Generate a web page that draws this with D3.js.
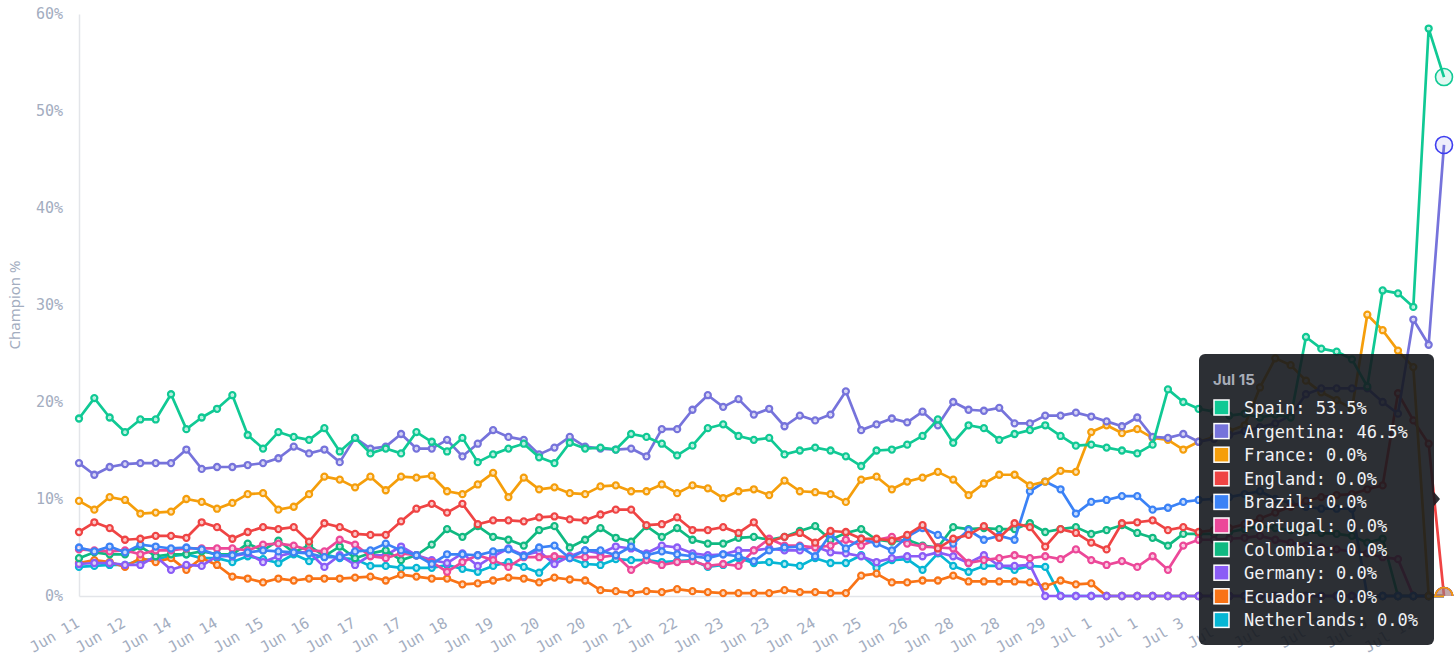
<!DOCTYPE html>
<html>
<head>
<meta charset="utf-8">
<script src="https://cdn.jsdelivr.net/npm/d3@7"></script>
<style>
  body { margin: 0; background: #fff; }
  svg { display: block; }
</style>
</head>
<body>
<svg width="1456" height="662"></svg>
<script>

var countries = ['Spain', 'Argentina', 'France', 'England', 'Brazil', 'Portugal', 'Colombia', 'Germany', 'Ecuador', 'Netherlands'];

var colors = ['#10c994', '#7673db', '#f59e0b', '#ef4444', '#3b82f6', '#ec4899', '#10b981', '#8b5cf6', '#f97316', '#06b6d4'];

// one label every third snapshot
var tickLabels = ['Jun 11', 'Jun 12', 'Jun 14', 'Jun 14', 'Jun 15', 'Jun 16', 'Jun 17', 'Jun 17', 'Jun 18', 'Jun 19',
	'Jun 20', 'Jun 20', 'Jun 21', 'Jun 22', 'Jun 23', 'Jun 23', 'Jun 24', 'Jun 25', 'Jun 26', 'Jun 28',
	'Jun 28', 'Jun 29', 'Jul 1', 'Jul 1', 'Jul 3', 'Jul 4', 'Jul 6', 'Jul 7', 'Jul 9', 'Jul 11'];

var hoverLabel = 'Jul 15';

var yTicks = [0, 10, 20, 30, 40, 50, 60];

var spain = [
	18.3, 20.4, 18.4, 16.9, 18.2, 18.2, 20.8, 17.2, 18.4, 19.3,
	20.7, 16.6, 15.2, 16.9, 16.4, 16.1, 17.3, 14.9, 16.3, 14.7,
	15.2, 14.7, 16.9, 15.9, 14.9, 16.3, 13.8, 14.6, 15.2, 15.7,
	14.3, 13.7, 15.8, 15.2, 15.3, 15.1, 16.7, 16.4, 15.7, 14.5,
	15.5, 17.3, 17.7, 16.5, 16.1, 16.3, 14.6, 15.0, 15.3, 15.0,
	14.4, 13.4, 15.0, 15.1, 15.6, 16.5, 18.2, 15.8, 17.6, 17.3,
	16.1, 16.7, 17.1, 17.6, 16.5, 15.5, 15.6, 15.3, 15.0, 14.7,
	15.6, 21.3, 20.0, 19.3, 19.0, 18.6, 18.8, 18.4, 18.7, 18.4,
	26.7, 25.5, 25.2, 24.4, 21.6, 31.5, 31.2, 29.8, 58.5, 53.5];

var argentina = [
	13.7, 12.5, 13.3, 13.6, 13.7, 13.7, 13.7, 15.1, 13.1, 13.3,
	13.3, 13.5, 13.7, 14.2, 15.4, 14.7, 15.1, 13.8, 16.3, 15.2,
	15.4, 16.7, 15.2, 15.2, 16.1, 14.4, 15.7, 17.1, 16.4, 16.1,
	14.6, 15.3, 16.4, 15.4, 15.2, 15.1, 15.2, 14.4, 17.2, 17.2,
	19.2, 20.7, 19.5, 20.3, 18.7, 19.3, 17.5, 18.6, 18.1, 18.7,
	21.1, 17.1, 17.7, 18.3, 17.9, 19.0, 17.6, 20.0, 19.2, 19.1,
	19.4, 17.8, 17.8, 18.6, 18.6, 18.9, 18.5, 18.0, 17.5, 18.4,
	16.4, 16.3, 16.7, 15.9, 16.2, 16.6, 17.0, 17.4, 17.8, 18.6,
	20.8, 21.4, 21.4, 21.4, 21.4, 20.0, 18.8, 28.5, 25.9, 46.5];

var france = [
	9.8, 8.9, 10.2, 9.9, 8.5, 8.6, 8.7, 10.0, 9.7, 9.0,
	9.6, 10.5, 10.6, 8.9, 9.2, 10.5, 12.3, 12.0, 11.2, 12.3,
	10.9, 12.3, 12.2, 12.4, 10.8, 10.5, 11.5, 12.7, 10.2, 12.2,
	11.0, 11.2, 10.6, 10.5, 11.3, 11.4, 10.8, 10.8, 11.5, 10.6,
	11.4, 11.1, 10.1, 10.8, 11.0, 10.4, 11.9, 10.8, 10.7, 10.5,
	9.7, 12.0, 12.3, 11.0, 11.8, 12.2, 12.8, 12.0, 10.4, 11.6,
	12.5, 12.5, 11.4, 11.8, 12.9, 12.8, 16.9, 17.6, 16.8, 17.2,
	16.3, 16.1, 15.1, 15.9, 16.4, 17.0, 17.6, 21.5, 24.5, 23.8,
	22.2, 21.0, 20.2, 19.3, 29.0, 27.4, 25.3, 23.6, 0, 0];

var england = [
	6.6, 7.6, 7.0, 5.8, 5.9, 6.2, 6.2, 6.0, 7.6, 7.1,
	5.9, 6.6, 7.1, 6.9, 7.1, 5.6, 7.5, 7.1, 6.4, 6.3,
	6.3, 7.7, 9.0, 9.5, 8.6, 9.5, 7.4, 7.8, 7.8, 7.7,
	8.1, 8.2, 7.9, 7.8, 8.4, 8.9, 8.9, 7.3, 7.4, 8.1,
	6.8, 6.8, 7.1, 6.5, 7.6, 5.6, 6.1, 6.5, 5.5, 6.7,
	6.6, 5.9, 5.9, 5.7, 6.3, 7.3, 4.9, 5.9, 6.3, 7.2,
	6.0, 7.5, 7.1, 5.1, 6.9, 6.5, 5.5, 4.8, 7.5, 7.6,
	7.8, 6.8, 7.1, 6.6, 6.8, 7.0, 7.4, 8.0, 8.6, 9.2,
	9.8, 10.2, 10.4, 10.5, 11.0, 11.4, 20.9, 18.1, 15.7, 0];

var brazil = [
	5.0, 4.6, 5.1, 4.5, 5.3, 5.1, 4.9, 5.0, 4.8, 4.2,
	4.2, 4.5, 4.7, 4.6, 4.5, 4.4, 4.0, 4.0, 4.6, 4.7,
	5.4, 4.7, 4.2, 3.3, 4.3, 4.3, 4.2, 4.6, 4.8, 4.1,
	5.0, 5.2, 3.9, 4.7, 4.7, 4.2, 5.1, 4.2, 4.6, 4.3,
	4.1, 3.9, 4.3, 4.1, 3.6, 4.7, 5.0, 5.1, 4.1, 6.4,
	4.9, 5.9, 5.4, 4.7, 6.1, 7.0, 6.3, 5.4, 6.8, 5.8,
	6.2, 5.8, 10.8, 11.8, 11.0, 8.5, 9.7, 9.9, 10.3, 10.3,
	8.9, 9.1, 9.7, 9.9, 10.0, 10.2, 10.5, 10.8, 10.0, 9.6,
	9.2, 9.0, 9.0, 9.0, 0, 0, 0, 0, 0, 0];

var portugal = [
	4.8, 4.7, 4.6, 4.7, 4.3, 4.7, 4.7, 4.9, 4.9, 4.9,
	4.9, 4.7, 5.3, 5.4, 5.2, 4.7, 4.6, 5.8, 5.3, 4.1,
	3.9, 4.4, 4.2, 3.5, 2.5, 3.5, 4.2, 3.7, 3.0, 4.0,
	4.0, 4.1, 4.0, 4.0, 4.0, 4.2, 2.7, 3.7, 3.2, 3.5,
	3.6, 3.1, 3.3, 3.1, 4.7, 5.9, 5.2, 5.2, 5.0, 5.2,
	5.8, 5.2, 5.8, 6.1, 5.4, 5.1, 5.0, 4.9, 3.4, 3.7,
	3.9, 4.2, 3.9, 4.1, 3.8, 4.8, 3.7, 3.2, 3.6, 3.0,
	4.1, 2.7, 5.2, 5.8, 5.8, 5.9, 6.0, 6.2, 5.8, 5.5,
	5.2, 5.0, 4.8, 4.6, 4.4, 4.0, 3.8, 0, 0, 0];

var colombia = [
	3.9, 4.5, 4.3, 4.3, 5.1, 4.1, 4.3, 4.3, 4.6, 4.3,
	4.3, 5.4, 4.7, 5.7, 4.5, 5.2, 4.1, 5.1, 3.9, 4.4,
	4.7, 3.7, 4.2, 5.3, 6.9, 6.1, 7.2, 6.1, 5.8, 5.2,
	6.8, 7.2, 5.0, 5.8, 7.0, 6.0, 5.6, 7.2, 6.1, 7.0,
	5.8, 5.4, 5.4, 6.0, 6.1, 5.8, 6.1, 6.7, 7.2, 5.8,
	6.5, 6.9, 5.8, 5.6, 5.8, 5.2, 5.0, 7.1, 6.9, 7.0,
	6.9, 6.9, 7.5, 6.6, 6.9, 7.1, 6.4, 6.8, 7.3, 6.5,
	6.0, 5.2, 6.4, 6.4, 6.4, 6.6, 6.9, 7.2, 7.0, 6.8,
	6.6, 6.5, 6.4, 6.2, 5.5, 5.9, 0, 0, 0, 0];

var germany = [
	3.3, 3.4, 3.4, 3.2, 3.2, 4.1, 2.7, 3.2, 3.1, 4.1,
	4.1, 4.4, 3.5, 4.1, 4.5, 4.5, 3.0, 4.2, 3.2, 4.2,
	4.2, 5.1, 4.2, 3.7, 3.4, 4.4, 3.1, 4.1, 4.9, 4.2,
	4.6, 3.3, 4.1, 4.7, 4.4, 5.1, 4.9, 4.4, 5.2, 5.0,
	4.4, 4.2, 4.3, 4.7, 4.7, 4.9, 4.7, 4.7, 5.1, 4.5,
	4.4, 4.1, 3.5, 3.9, 4.1, 4.1, 4.5, 4.1, 3.4, 4.2,
	3.1, 3.1, 3.2, 0, 0, 0, 0, 0, 0, 0,
	0, 0, 0, 0, 0, 0, 0, 0, 0, 0,
	0, 0, 0, 0, 0, 0, 0, 0, 0, 0];

var ecuador = [
	3.4, 3.7, 3.5, 3.0, 3.9, 3.5, 3.9, 2.7, 3.9, 3.2,
	2.0, 1.8, 1.4, 1.8, 1.6, 1.8, 1.8, 1.8, 1.9, 2.0,
	1.6, 2.2, 2.0, 1.8, 1.8, 1.2, 1.3, 1.6, 1.9, 1.8,
	1.4, 1.9, 1.7, 1.6, 0.6, 0.5, 0.3, 0.5, 0.4, 0.7,
	0.5, 0.4, 0.3, 0.3, 0.3, 0.3, 0.6, 0.4, 0.4, 0.3,
	0.3, 2.1, 2.3, 1.4, 1.4, 1.6, 1.6, 2.1, 1.5, 1.5,
	1.5, 1.5, 1.4, 1.0, 1.6, 1.2, 1.3, 0, 0, 0,
	0, 0, 0, 0, 0, 0, 0, 0, 0, 0,
	0, 0, 0, 0, 0, 0, 0, 0, 0, 0];

var netherlands = [
	3.0, 3.1, 3.2, 3.2, 3.7, 3.8, 4.1, 4.3, 3.9, 3.9,
	3.5, 4.1, 3.8, 3.4, 4.3, 3.6, 4.3, 3.9, 3.8, 3.1,
	3.1, 2.9, 2.9, 2.9, 3.2, 2.8, 2.5, 3.1, 3.5, 3.0,
	2.4, 3.9, 3.9, 3.3, 3.2, 3.8, 3.7, 3.7, 3.5, 3.6,
	3.7, 3.0, 3.2, 3.9, 3.4, 3.5, 3.3, 3.1, 3.9, 3.4,
	3.4, 4.2, 2.9, 3.7, 3.8, 2.7, 4.4, 3.1, 2.5, 3.1,
	3.1, 2.7, 3.1, 3.0, 0, 0, 0, 0, 0, 0,
	0, 0, 0, 0, 0, 0, 0, 0, 0, 0,
	0, 0, 0, 0, 0, 0, 0, 0, 0, 0];


var values = [spain, argentina, france, england, brazil, portugal, colombia, germany, ecuador, netherlands];

var series = countries.map(function (name, i) {
	return { name: name, color: colors[i], values: values[i] };
});

var svg = d3.select('body svg');

var last = spain.length - 1;

var x = d3.scalePoint().domain(d3.range(spain.length)).range([79, 1444]);
var y = d3.scaleLinear().domain([0, 60]).range([596, 14]);

var axisColor = '#e3e5e9',
	labelColor = '#a3adbf',
	mono = '"DejaVu Sans Mono", "Liberation Mono", monospace';


/*
	axes
*/
var yAxis = svg.append('g').attr('transform', 'translate(79,0)')
	.call(d3.axisLeft(y).tickValues(yTicks).tickFormat(function (d) { return d + '%'; }).tickSize(0).tickPadding(16));

var xAxis = svg.append('g').attr('transform', 'translate(0,596)')
	.call(d3.axisBottom(x).tickValues(d3.range(0, spain.length, 3)).tickFormat(function (d) { return tickLabels[d / 3]; }).tickSize(0));

[yAxis, xAxis].forEach(function (a) {
	a.select('.domain').attr('stroke', axisColor).attr('stroke-width', 1.5);
	a.selectAll('text').attr('fill', labelColor).style('font-family', mono).style('font-size', '15px');
});

xAxis.selectAll('text')
	.attr('text-anchor', 'end')
	.attr('y', 0).attr('dy', 0)
	.attr('transform', 'translate(1,30) rotate(-30)');

svg.append('text')
	.attr('transform', 'translate(20,305) rotate(-90)')
	.attr('text-anchor', 'middle')
	.attr('fill', labelColor)
	.style('font-family', '"Noto Sans", sans-serif')
	.style('font-size', '15px')
	.text('Champion %');


/*
	lines + points, first country on top
*/
var line = d3.line()
	.x(function (d, i) { return x(i); })
	.y(function (d) { return y(d); });

var groups = svg.append('g').selectAll('g')
	.data(series.slice().reverse())
	.enter().append('g');

groups.append('path')
	.attr('d', function (s) { return line(s.values); })
	.attr('fill', 'none')
	.attr('stroke', function (s) { return s.color; })
	.attr('stroke-width', 2.7)
	.attr('stroke-linejoin', 'round');

groups.each(function (s) {
	d3.select(this).selectAll('circle')
		.data(s.values.slice(0, last))
		.enter().append('circle')
		.attr('cx', function (d, i) { return x(i); })
		.attr('cy', function (d) { return y(d); })
		.attr('r', 3)
		.attr('fill', '#fff')
		.attr('fill-opacity', 0.7)
		.attr('stroke', s.color)
		.attr('stroke-width', 2.3);
});


/*
	hovered snapshot
*/
svg.append('clipPath').attr('id', 'plot')
	.append('rect').attr('x', 0).attr('y', 0).attr('width', 1456).attr('height', 596);

var hoverStroke = { Argentina: '#3d3df0' };

svg.append('g').attr('clip-path', 'url(#plot)').selectAll('circle')
	.data(series.slice().reverse())
	.enter().append('circle')
	.attr('cx', x(last))
	.attr('cy', function (s) { return y(s.values[last]); })
	.attr('r', 8.5)
	.attr('fill', function (s) { return s.color; })
	.attr('fill-opacity', 0.12)
	.attr('stroke', function (s) { return hoverStroke[s.name] || s.color; })
	.attr('stroke-width', 1.6);


/*
	tooltip
*/
var tip = svg.append('g').attr('transform', 'translate(1199,354)');

tip.append('rect').attr('width', 235).attr('height', 291).attr('rx', 6)
	.attr('fill', '#15181e').attr('fill-opacity', 0.9);

tip.append('path').attr('d', 'M235,138 L241,145 L235,152 Z').attr('fill', '#15181e').attr('fill-opacity', 0.9);

tip.append('text')
	.attr('x', 14).attr('y', 31)
	.attr('fill', '#a7adb8')
	.style('font-family', 'Inter, "Noto Sans", sans-serif')
	.style('font-weight', 700)
	.style('font-size', '15px')
	.text(hoverLabel);

var rows = tip.selectAll('g.row')
	.data(series)
	.enter().append('g').classed('row', true)
	.attr('transform', function (s, i) { return 'translate(0,' + (54 + i * 23.6) + ')'; });

rows.append('rect')
	.attr('x', 15).attr('y', -8).attr('width', 15).attr('height', 15)
	.attr('fill', function (s) { return s.color; })
	.attr('stroke', '#fff').attr('stroke-width', 1.5);

rows.append('text')
	.attr('x', 45).attr('y', 6)
	.attr('fill', '#f1f2f4')
	.style('font-family', mono)
	.style('font-size', '17px')
	.text(function (s) { return s.name + ': ' + s.values[last].toFixed(1) + '%'; });

</script>
</body>
</html>
